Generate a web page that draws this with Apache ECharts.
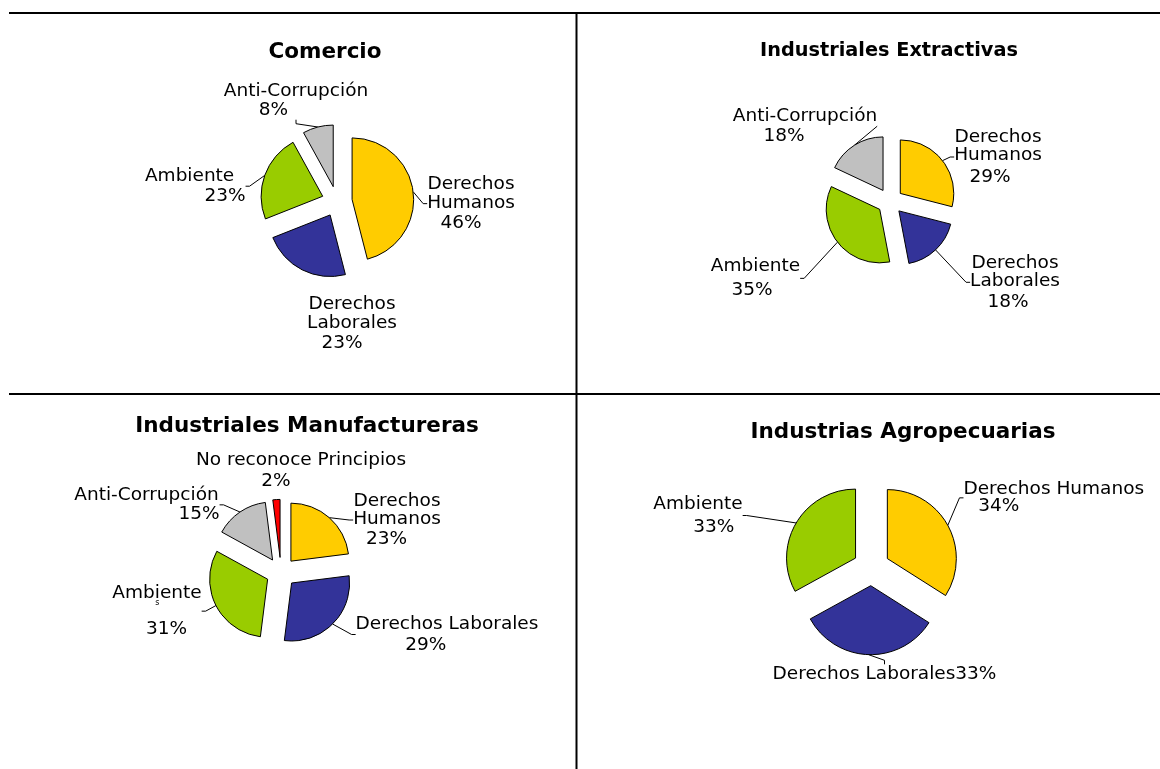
<!DOCTYPE html>
<html>
<head>
<meta charset="utf-8">
<title>Principios por sector</title>
<script src="https://cdn.jsdelivr.net/npm/echarts@6.0.0/dist/echarts.min.js"></script>
<style>
    html, body { margin: 0; padding: 0; background: #fff; }
    #main { width: 1160px; height: 769px; }
</style>
</head>
<body>
<div id="main"></div>
<script>
// categorías (orden de las porciones, en sentido horario desde arriba)
const categories = ['Derechos Humanos', 'Derechos Laborales', 'Ambiente', 'Anti-Corrupción', 'No reconoce Principios'];
const colors = ['#FFCC00', '#333399', '#99CC00', '#C0C0C0', '#FF0000'];
const titles = ['Comercio', 'Industriales Extractivas', 'Industriales Manufactureras', 'Industrias Agropecuarias'];

// valores (%)
const comercioValues = [46, 23, 23, 8];
const extractivasValues = [29, 18, 35, 18];
const manufacturerasValues = [23, 29, 31, 15, 2];
const agroValues = [34, 33, 33];

// textos de las etiquetas, cortados como en el original
const comercioText = ['Derechos\nHumanos', 'Derechos\nLaborales', 'Ambiente', 'Anti-Corrupción'];
const extractivasText = ['Derechos\nHumanos', 'Derechos\nLaborales', 'Ambiente', 'Anti-Corrupción'];
const manufacturerasText = ['Derechos\nHumanos', 'Derechos Laborales', 'Ambiente', 'Anti-Corrupción', 'No reconoce Principios'];
const agroText = ['Derechos Humanos', 'Derechos Laborales', 'Ambiente'];

window.onload = function () {
    const FONT = 'DejaVu Sans';
    const FS = 18.5;     // tamaño de etiqueta
    const LH = 18.3;     // alto de línea
    const MID = 0.297;   // línea base bajo el centro (em)

    // posición de cada gráfico y de sus etiquetas
    // etiqueta: [centro x nombre, base 1a línea, centro x %, base %, con guía]
    const panels = [
        { values: comercioValues, texts: comercioText, center: [337, 201.4], radius: 61.6, offset: 15.2,
          title: [325, 59.3, 21.5],
          labels: [[471, 190, 461, 228.3, 1], [352, 310, 342, 348.3, 0], [189.6, 181.7, 225, 201.7, 1], [296, 96.7, 273.5, 115.7, 1]] },
        { values: extractivasValues, texts: extractivasText, center: [890, 201.4], radius: 53.5, offset: 13,
          title: [889, 56.7, 19.3],
          labels: [[998, 142.7, 990, 182.3, 1], [1015, 268.3, 1008, 307.3, 1], [755.5, 271.7, 752, 296, 1], [805, 121.7, 784, 141.7, 1]] },
        { values: manufacturerasValues, texts: manufacturerasText, center: [281, 572.4], radius: 58, offset: 15,
          title: [307, 433, 21.5],
          labels: [[397, 506.7, 386.5, 544.3, 1], [447, 629.3, 425.8, 650.7, 1], [157, 598.3, 166.5, 635, 1], [146.5, 500.7, 199, 520, 1], [301, 466, 275.8, 486.7, 0]] },
        { values: agroValues, texts: agroText, center: [871.3, 567.4], radius: 69, offset: 18.3,
          title: [903, 438.5, 21.5],
          labels: [[1053.8, 495, 998.8, 511.7, 1], [884.5, 679.3, null, null, 1], [698, 509.3, 713.7, 532.7, 1]] }
    ];

    // etiqueta en texto enriquecido: nombre + porcentaje
    function labelOf(p, i) {
        const L = p.labels[i];
        const lines = p.texts[i].split('\n');
        const pct = p.values[i] + '%';
        let text = lines.map(function (l) { return '{n|' + l + '}'; }).join('\n');
        const pStyle = { fontFamily: FONT, fontSize: FS, lineHeight: LH, color: '#000' };
        if (L[2] == null) {
            text += '{p|' + pct + '}';
        } else {
            const lastBase = L[1] + LH * (lines.length - 1);
            const dx = L[2] - L[0];
            pStyle.lineHeight = 2 * (L[3] - lastBase) - LH;
            pStyle.padding = [0, dx < 0 ? -2 * dx : 0, 0, dx > 0 ? 2 * dx : 0];
            text += '\n{p|' + pct + '}';
        }
        return {
            show: true, position: 'outside', formatter: text,
            rich: { n: { fontFamily: FONT, fontSize: FS, lineHeight: LH, color: '#000' }, p: pStyle }
        };
    }

    // cada porción es su propia serie para poder separarla del centro
    // (pastel "explotado"); el resto del círculo queda transparente
    const series = [];
    panels.forEach(function (p) {
        const total = p.values.reduce(function (a, b) { return a + b; }, 0);
        let cum = 0;
        p.values.forEach(function (v, i) {
            const start = 90 - 360 * cum / total;
            const mid = (start - 180 * v / total) * Math.PI / 180;
            cum += v;
            const L = p.labels[i];
            series.push({
                type: 'pie',
                center: [p.center[0] + p.offset * Math.cos(mid), p.center[1] - p.offset * Math.sin(mid)],
                radius: p.radius,
                startAngle: start,
                clockwise: true,
                avoidLabelOverlap: false,
                silent: true,
                animation: false,
                emphasis: { disabled: true },
                labelLine: { show: true, length: 6, length2: 4, lineStyle: { color: '#000', width: 1 } },
                labelLayout: function (params) {
                    if (params.dataIndex !== 0) return {};
                    return { x: L[0], y: L[1] - LH / 2 - MID * FS, align: 'center', verticalAlign: 'top' };
                },
                data: [
                    { name: categories[i], value: v,
                      itemStyle: { color: colors[i], borderColor: '#000', borderWidth: 1 },
                      label: labelOf(p, i),
                      labelLine: { show: !!L[4] } },
                    { name: '', value: total - v,
                      itemStyle: { color: 'rgba(0,0,0,0)', borderWidth: 0 },
                      label: { show: false }, labelLine: { show: false } }
                ]
            });
        });
    });

    // títulos y líneas divisorias
    const graphic = panels.map(function (p, k) {
        return {
            type: 'text', x: p.title[0], y: p.title[1] - MID * p.title[2],
            style: { text: titles[k], fontFamily: FONT, fontWeight: 'bold', fontSize: p.title[2],
                     lineHeight: p.title[2], fill: '#000', align: 'center', verticalAlign: 'middle' }
        };
    });
    graphic.push(
        { type: 'line', shape: { x1: 9, y1: 13, x2: 1160, y2: 13 }, style: { stroke: '#000', lineWidth: 2 } },
        { type: 'line', shape: { x1: 9, y1: 394, x2: 1160, y2: 394 }, style: { stroke: '#000', lineWidth: 2 } },
        { type: 'line', shape: { x1: 576.5, y1: 13, x2: 576.5, y2: 769 }, style: { stroke: '#000', lineWidth: 2 } },
        { type: 'text', x: 157.3, y: 603.3,
          style: { text: 's', fontFamily: FONT, fontSize: 8, fill: '#000', align: 'center', verticalAlign: 'middle' } }
    );

    const chart = echarts.init(document.getElementById('main'));
    chart.setOption({
        backgroundColor: '#fff',
        animation: false,
        graphic: graphic,
        series: series
    });

    window.onresize = function () {
        chart.resize();
    };
};
</script>
</body>
</html>
